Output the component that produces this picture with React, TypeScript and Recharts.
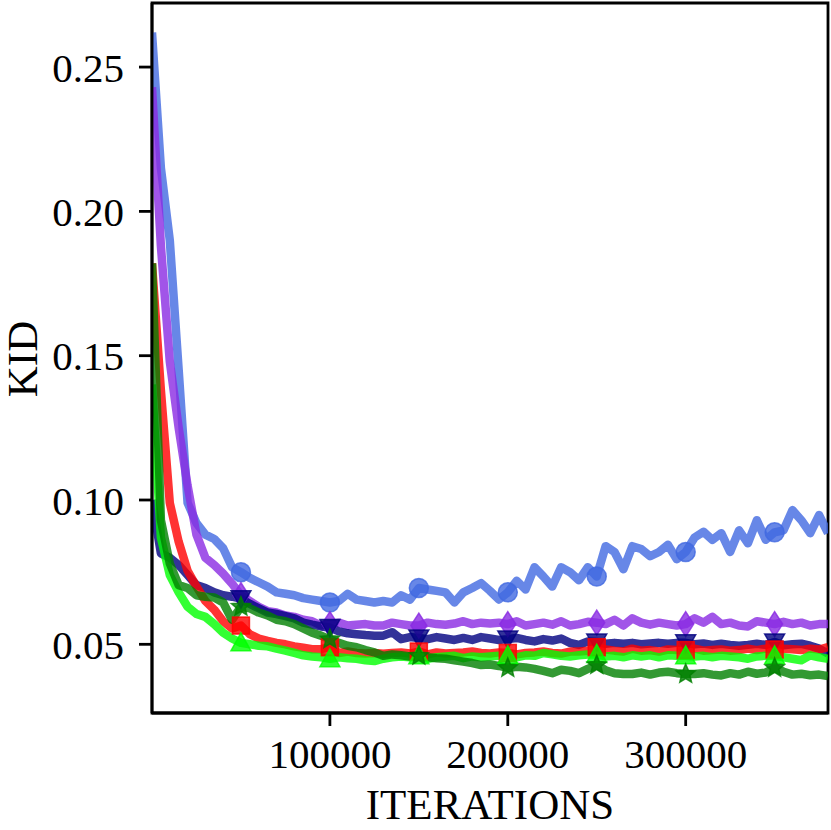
import React from 'react';
import { LineChart, Line, XAxis, YAxis, ReferenceArea } from 'recharts';

const iterations = [
  0, 5000, 10000, 15000, 20000, 25000, 30000, 35000, 40000, 45000,
  50000, 55000, 60000, 65000, 70000, 75000, 80000, 85000, 90000, 95000,
  100000, 105000, 110000, 115000, 120000, 125000, 130000, 135000, 140000, 145000,
  150000, 155000, 160000, 165000, 170000, 175000, 180000, 185000, 190000, 195000,
  200000, 205000, 210000, 215000, 220000, 225000, 230000, 235000, 240000, 245000,
  250000, 255000, 260000, 265000, 270000, 275000, 280000, 285000, 290000, 295000,
  300000, 305000, 310000, 315000, 320000, 325000, 330000, 335000, 340000, 345000,
  350000, 355000, 360000, 365000, 370000, 375000, 380000,
];

const blueSeries = [
  0.262, 0.215, 0.19, 0.145, 0.099, 0.092, 0.088, 0.0865, 0.0833, 0.0767,
  0.075, 0.073, 0.0715, 0.070, 0.068, 0.0675, 0.067, 0.066, 0.0655, 0.065,
  0.0645, 0.065, 0.0675, 0.0655, 0.065, 0.0645, 0.065, 0.0645, 0.067, 0.0655,
  0.0695, 0.069, 0.0685, 0.068, 0.0645, 0.068, 0.0695, 0.0712, 0.0685, 0.0655,
  0.068, 0.072, 0.069, 0.0767, 0.0735, 0.070, 0.0767, 0.075, 0.0722, 0.0767,
  0.0735, 0.084, 0.082, 0.076, 0.084, 0.083, 0.0805, 0.082, 0.0845, 0.0795,
  0.082, 0.087, 0.089, 0.0862, 0.0885, 0.082, 0.0895, 0.085, 0.093, 0.0862,
  0.0888, 0.0895, 0.0965, 0.093, 0.0885, 0.0948, 0.0885,
];

const purpleSeries = [
  0.243, 0.188, 0.148, 0.125, 0.105, 0.088, 0.080, 0.0775, 0.0745, 0.071,
  0.067, 0.065, 0.063, 0.0615, 0.061, 0.060, 0.0595, 0.0585, 0.058, 0.0565,
  0.057, 0.0575, 0.0565, 0.0568, 0.057, 0.0565, 0.0565, 0.0575, 0.057, 0.0565,
  0.0565, 0.0575, 0.057, 0.0568, 0.0572, 0.058, 0.057, 0.0575, 0.0572, 0.0575,
  0.057, 0.058, 0.0565, 0.057, 0.0575, 0.0568, 0.058, 0.0565, 0.057, 0.0578,
  0.0575, 0.057, 0.0585, 0.0565, 0.059, 0.0575, 0.0568, 0.0575, 0.057, 0.0565,
  0.057, 0.059, 0.0575, 0.0595, 0.057, 0.0575, 0.0565, 0.0562, 0.058, 0.0575,
  0.057, 0.0578, 0.057, 0.0575, 0.0565, 0.057, 0.057,
];

const navySeries = [
  0.10, 0.0815, 0.080, 0.0775, 0.074, 0.0705, 0.0695, 0.068, 0.067, 0.0665,
  0.0658, 0.064, 0.0625, 0.061, 0.0605, 0.0598, 0.059, 0.0575, 0.0568, 0.0562,
  0.0558, 0.0545, 0.0538, 0.0535, 0.0532, 0.053, 0.053, 0.0542, 0.0518, 0.0525,
  0.0522, 0.0518, 0.0525, 0.052, 0.0515, 0.0522, 0.0515, 0.0525, 0.052, 0.0515,
  0.0518, 0.0522, 0.0515, 0.051, 0.0518, 0.0513, 0.052, 0.0505, 0.0498, 0.051,
  0.0508, 0.0502, 0.0505, 0.0502, 0.0505, 0.050, 0.0503, 0.0505, 0.0502, 0.0505,
  0.0505, 0.050, 0.0503, 0.0498, 0.0502, 0.0498, 0.0495, 0.0498, 0.0502, 0.0498,
  0.0508, 0.0497, 0.050, 0.0502, 0.0495, 0.0485, 0.0468,
];

const redSeries = [
  0.182, 0.138, 0.099, 0.0855, 0.0755, 0.070, 0.065, 0.062, 0.058, 0.0555,
  0.0565, 0.0535, 0.052, 0.0512, 0.0505, 0.050, 0.0493, 0.0488, 0.0483, 0.0483,
  0.049, 0.047, 0.0475, 0.047, 0.0468, 0.047, 0.0467, 0.047, 0.0472, 0.0468,
  0.0475, 0.0465, 0.0472, 0.0468, 0.047, 0.0472, 0.0475, 0.047, 0.0468, 0.0472,
  0.047, 0.0465, 0.047, 0.0472, 0.0475, 0.047, 0.0468, 0.0475, 0.0475, 0.0478,
  0.049, 0.0482, 0.0478, 0.0475, 0.0485, 0.0478, 0.048, 0.0475, 0.0482, 0.048,
  0.048, 0.0485, 0.0478, 0.048, 0.0482, 0.0478, 0.048, 0.0485, 0.048, 0.0485,
  0.0482, 0.0485, 0.0483, 0.048, 0.0485, 0.0482, 0.049,
];

const limeSeries = [
  0.14, 0.087, 0.074, 0.068, 0.063, 0.0605, 0.0595, 0.057, 0.054, 0.052,
  0.0505, 0.050, 0.0495, 0.0493, 0.0485, 0.0478, 0.047, 0.0462, 0.0458, 0.0455,
  0.045, 0.0455, 0.0452, 0.045, 0.0445, 0.0442, 0.045, 0.0455, 0.0458, 0.0455,
  0.046, 0.045, 0.0455, 0.0458, 0.046, 0.0452, 0.0458, 0.0455, 0.0458, 0.046,
  0.046, 0.0455, 0.0462, 0.046, 0.047, 0.0465, 0.046, 0.0458, 0.0462, 0.0465,
  0.0465, 0.0458, 0.046, 0.0455, 0.0462, 0.0458, 0.0462, 0.0455, 0.0462, 0.046,
  0.046, 0.0458, 0.046, 0.0455, 0.046, 0.0458, 0.0455, 0.045, 0.0458, 0.046,
  0.046, 0.0455, 0.045, 0.0445, 0.0462, 0.0455, 0.045,
];

const greenSeries = [
  0.182, 0.093, 0.078, 0.0705, 0.0695, 0.067, 0.0665, 0.0662, 0.0645, 0.0585,
  0.063, 0.0625, 0.061, 0.060, 0.0585, 0.058, 0.057, 0.0555, 0.054, 0.053,
  0.0517, 0.0505, 0.0495, 0.049, 0.048, 0.0472, 0.046, 0.0465, 0.0462, 0.0458,
  0.046, 0.0455, 0.0452, 0.045, 0.0445, 0.044, 0.0435, 0.0428, 0.043, 0.0425,
  0.0418, 0.0422, 0.042, 0.0415, 0.0408, 0.040, 0.0412, 0.0408, 0.040, 0.0415,
  0.0428, 0.041, 0.040, 0.0397, 0.0397, 0.0402, 0.0395, 0.0402, 0.0405, 0.040,
  0.0397, 0.0397, 0.040, 0.0395, 0.0392, 0.040, 0.0395, 0.0405, 0.0398, 0.0402,
  0.0418, 0.0405, 0.0395, 0.0398, 0.0393, 0.0395, 0.039,
];

const xTicks = [100000, 200000, 300000];
const yTicks = [0.05, 0.1, 0.15, 0.2, 0.25];
const xDomain: [number, number] = [0, 380000];
const yDomain: [number, number] = [0.0262, 0.2722];

const rows = iterations.map((it, i) => ({
  it,
  blue: blueSeries[i],
  purple: purpleSeries[i],
  navy: navySeries[i],
  red: redSeries[i],
  lime: limeSeries[i],
  green: greenSeries[i],
}));

const FONT = "'Liberation Serif', 'DejaVu Serif', serif";

type Shape = 'circle' | 'diamond' | 'tdown' | 'square' | 'tup' | 'star';

const starPoints = (cx: number, cy: number, ro: number, ri: number) => {
  const pts: string[] = [];
  for (let k = 0; k < 10; k++) {
    const r = k % 2 === 0 ? ro : ri;
    const a = -Math.PI / 2 + (k * Math.PI) / 5;
    pts.push(`${cx + r * Math.cos(a)},${cy + r * Math.sin(a)}`);
  }
  return pts.join(' ');
};

const makeDot = (shape: Shape, color: string) => (props: any) => {
  const { cx, cy, index } = props;
  const key = `${shape}-${index}`;
  if (cx == null || cy == null || index === 0 || index % 10 !== 0) return <g key={key} />;
  const common = { fill: color, fillOpacity: 0.8, stroke: color, strokeOpacity: 0.8, strokeWidth: 1.5 };
  switch (shape) {
    case 'circle':
      return <circle key={key} cx={cx} cy={cy} r={9.5} {...common} />;
    case 'diamond':
      return <polygon key={key} points={`${cx},${cy - 12.5} ${cx + 8},${cy} ${cx},${cy + 12.5} ${cx - 8},${cy}`} {...common} />;
    case 'tdown':
      return <polygon key={key} points={`${cx - 10},${cy - 8} ${cx + 10},${cy - 8} ${cx},${cy + 9.5}`} {...common} />;
    case 'square':
      return <rect key={key} x={cx - 8.5} y={cy - 8.5} width={17} height={17} {...common} />;
    case 'tup':
      return <polygon key={key} points={`${cx},${cy - 10} ${cx + 10},${cy + 8} ${cx - 10},${cy + 8}`} {...common} />;
    case 'star':
    default:
      return <polygon key={key} points={starPoints(cx, cy, 10, 4.5)} {...common} />;
  }
};

const seriesDefs: { key: string; color: string; shape: Shape }[] = [
  { key: 'blue', color: '#4169E1', shape: 'circle' },
  { key: 'purple', color: '#8A2BE2', shape: 'diamond' },
  { key: 'navy', color: '#000080', shape: 'tdown' },
  { key: 'red', color: '#FF0000', shape: 'square' },
  { key: 'lime', color: '#00FF00', shape: 'tup' },
  { key: 'green', color: '#008000', shape: 'star' },
];

export default function App() {
  return (
    <div style={{ position: 'absolute', left: 0, top: 0, width: 831, height: 830, background: '#fff' }}>
      <LineChart width={831} height={830} data={rows} margin={{ top: 3, right: 3, bottom: 0, left: 0 }}>
        <XAxis
          dataKey="it"
          type="number"
          domain={xDomain}
          ticks={xTicks}
          interval={0}
          allowDataOverflow
          height={117}
          tickSize={13}
          tickMargin={13}
          axisLine={{ stroke: '#000', strokeWidth: 2.8 }}
          tickLine={{ stroke: '#000', strokeWidth: 2.8 }}
          tick={{ fill: '#000', fontSize: 41, fontFamily: FONT }}
          label={{
            content: () => (
              <text x={490} y={819} textAnchor="middle" fontSize={43} fontFamily={FONT} fill="#000">
                ITERATIONS
              </text>
            ),
          }}
        />
        <YAxis
          type="number"
          domain={yDomain}
          ticks={yTicks}
          interval={0}
          allowDataOverflow
          width={152}
          tickSize={13}
          tickMargin={15}
          tickFormatter={(v: number) => v.toFixed(2)}
          axisLine={{ stroke: '#000', strokeWidth: 2.8 }}
          tickLine={{ stroke: '#000', strokeWidth: 2.8 }}
          tick={{ fill: '#000', fontSize: 41, fontFamily: FONT }}
          label={{
            content: () => (
              <text
                x={37}
                y={359}
                transform="rotate(-90, 37, 359)"
                textAnchor="middle"
                fontSize={43}
                fontFamily={FONT}
                fill="#000"
              >
                KID
              </text>
            ),
          }}
        />
        {seriesDefs.map((s) => (
          <Line
            key={s.key}
            type="linear"
            dataKey={s.key}
            stroke={s.color}
            strokeOpacity={0.8}
            strokeWidth={8.5}
            strokeLinejoin="round"
            dot={makeDot(s.shape, s.color)}
            activeDot={false}
            isAnimationActive={false}
          />
        ))}
        <ReferenceArea
          x1={xDomain[0]}
          x2={xDomain[1]}
          y1={yDomain[0]}
          y2={yDomain[1]}
          fill="none"
          fillOpacity={0}
          stroke="#000"
          strokeWidth={2.8}
          ifOverflow="visible"
        />
      </LineChart>
    </div>
  );
}
